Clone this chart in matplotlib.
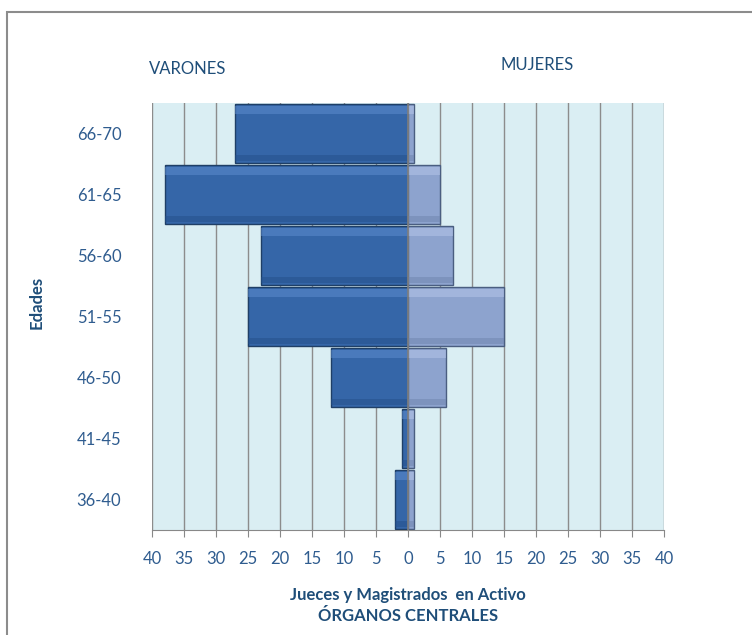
import numpy as np
import matplotlib.pyplot as plt
from matplotlib.patches import Rectangle

# data
ages = ["36-40", "41-45", "46-50", "51-55", "56-60", "61-65", "66-70"]
varones = [2, 1, 12, 25, 23, 38, 27]
mujeres = [1, 1, 6, 15, 7, 5, 1]
ticks = np.arange(-40, 41, 5)

text_col = "#2F5C8F"
title_col = "#1F4E79"

plt.rcParams['font.family'] = ['Lato', 'DejaVu Sans']

fig = plt.figure(figsize=(7.52, 6.35), dpi=100)
ax = fig.add_axes([0.202, 0.165, 0.681, 0.673])
ax.set_facecolor("#DAEEF3")

y = np.arange(len(ages))
h = 0.96
men = -np.array(varones)
women = np.array(mujeres)

# main bars
ax.barh(y, men, height=h, color="#3566A8", edgecolor="#1F3F66", linewidth=1.0, zorder=3)
ax.barh(y, women, height=h, color="#8DA3CE", edgecolor="#4A5E80", linewidth=1.0, zorder=3)
# soft bevel: lighter top, darker bottom
ax.barh(y + h * 0.40, men, height=h * 0.14, color="#5F8ED0", linewidth=0, zorder=4, alpha=0.5)
ax.barh(y + h * 0.40, women, height=h * 0.14, color="#B7C8EA", linewidth=0, zorder=4, alpha=0.5)
ax.barh(y - h * 0.42, men, height=h * 0.10, color="#24508A", linewidth=0, zorder=4, alpha=0.5)
ax.barh(y - h * 0.42, women, height=h * 0.10, color="#6F84AE", linewidth=0, zorder=4, alpha=0.5)

ax.set_xlim(-40, 40)
ax.set_ylim(-0.5, len(ages) - 0.5)
ax.set_xticks(ticks)
ax.set_xticklabels([str(abs(t)) for t in ticks], fontsize=12, color=text_col)
ax.set_yticks(y)
ax.set_yticklabels(ages, fontsize=12, color=text_col)
ax.tick_params(axis='y', length=0, pad=22)
ax.tick_params(axis='x', length=5, color="#888888", pad=10)
ax.grid(axis='x', color="#8C8C8C", linewidth=1.0, zorder=1)
ax.set_axisbelow(True)
for s in ["top", "right", "left"]:
    ax.spines[s].set_visible(False)
ax.spines["bottom"].set_color("#888888")
ax.axvline(0, color="#7F7F7F", linewidth=1.2, zorder=5)

ax.set_xlabel("Jueces y Magistrados  en Activo\nÓRGANOS CENTRALES", fontsize=12,
              fontweight='bold', color=title_col, labelpad=14, linespacing=1.45)
fig.text(0.049, 0.523, "Edades", rotation=90, fontsize=12, fontweight='bold',
         color=title_col, ha='center', va='center')
fig.text(0.249, 0.892, "VARONES", fontsize=12, color=title_col, ha='center', va='center')
fig.text(0.714, 0.898, "MUJERES", fontsize=12, color=title_col, ha='center', va='center')

# outer frame of the chart area
fig.patches.append(Rectangle((0.009, -0.05), 1.2, 1.031, transform=fig.transFigure,
                             fill=False, edgecolor="#8C8C8C", linewidth=1.5))

fig.savefig("out.png", dpi=100)
